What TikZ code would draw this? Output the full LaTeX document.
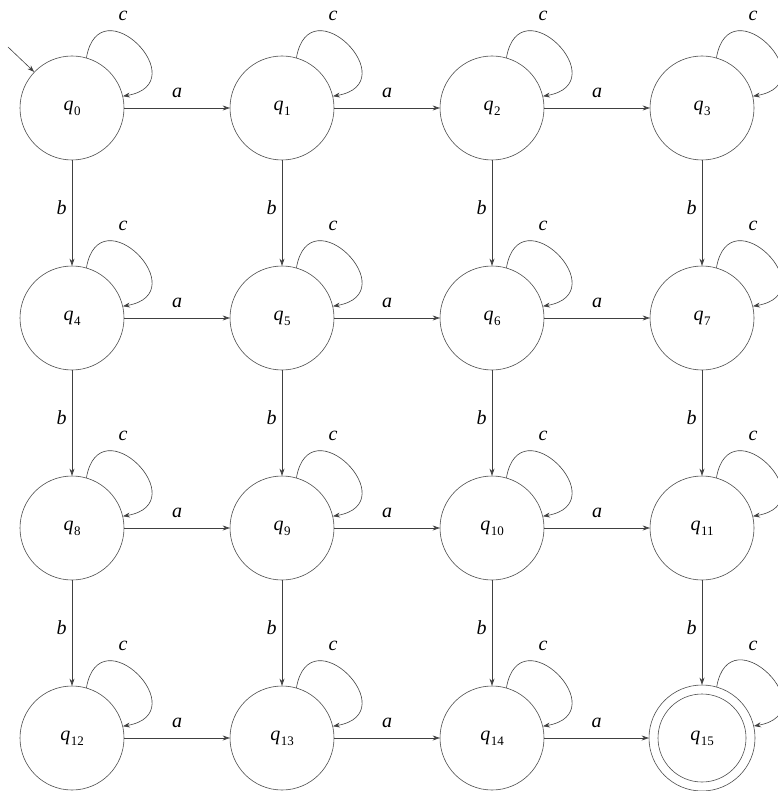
\documentclass[tikz,border=0pt]{standalone}
\usepackage{fontspec}
\setmainfont{Liberation Serif}
\usetikzlibrary{arrows.meta}
\newcommand\stlabel[1]{\textit{q}\kern0.5pt\raisebox{-5pt}{\fontsize{13}{13}\selectfont #1}}
\begin{document}
\begin{tikzpicture}[x=1pt,y=1pt,
  state/.style={circle,draw=black!70,line width=0.6pt,minimum size=104pt,inner sep=0pt,font=\fontsize{20}{20}\selectfont},
  edge/.style={draw=black!75,line width=0.6pt,-{Stealth[length=7pt,width=5pt]}},
  lbl/.style={font=\fontsize{20}{20}\selectfont\itshape,text=black,inner sep=3pt}]
\useasboundingbox (0,0) rectangle (777,-791);
\foreach \i/\x/\y in {0/72/-108,1/282/-108,2/492/-108,3/702/-108,
                      4/72/-318,5/282/-318,6/492/-318,7/702/-318,
                      8/72/-528,9/282/-528,10/492/-528,11/702/-528,
                      12/72/-738,13/282/-738,14/492/-738}
  \node[state] (q\i) at (\x,\y) {\stlabel{\i}};
\node[state,minimum size=106pt] (q15) at (702,-738) {\stlabel{15}};
\draw[draw=black!70,line width=0.6pt] (q15.center) circle (44pt);
% self loops
\foreach \i in {0,...,15}
  \draw[edge] (q\i.74) .. controls +(80:75) and +(10:75) .. (q\i.13);
\foreach \i/\x/\y in {0/72/-108,1/282/-108,2/492/-108,3/702/-108,
                      4/72/-318,5/282/-318,6/492/-318,7/702/-318,
                      8/72/-528,9/282/-528,10/492/-528,11/702/-528,
                      12/72/-738,13/282/-738,14/492/-738,15/702/-738}
  \node[lbl] (c\i) at (\x+51,\y+92) {c};
% a transitions
\foreach \s/\t in {0/1,1/2,2/3,4/5,5/6,6/7,8/9,9/10,10/11,12/13,13/14,14/15}
  \draw[edge] (q\s) -- node[lbl,above=7pt] (ea\s) {a} (q\t);
% b transitions
\foreach \s/\t in {0/4,1/5,2/6,3/7,4/8,5/9,6/10,7/11,8/12,9/13,10/14,11/15}
  \draw[edge] (q\s) -- node[lbl,left=2pt,pos=0.45] (eb\s) {b} (q\t);
% initial
\coordinate (init) at (8,-47);
\draw[edge] (init) -- (q0);
\end{tikzpicture}
\end{document}
